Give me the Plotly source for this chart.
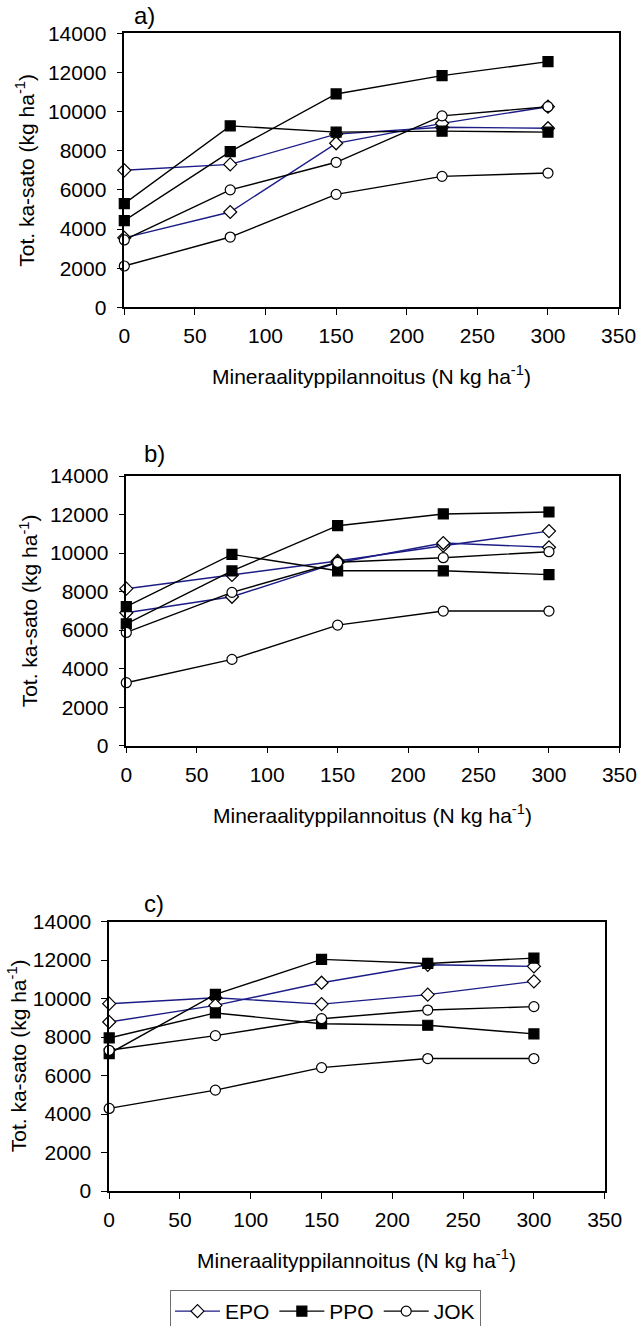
import plotly.graph_objects as go

# Nitrogen fertiliser rates (N kg/ha)
n_rates = [0, 75, 150, 225, 300]
x_ticks = [0, 50, 100, 150, 200, 250, 300, 350]
y_ticks = [0, 2000, 4000, 6000, 8000, 10000, 12000, 14000]

# Panel a) total dry-matter yield (kg/ha)
a_epo_1 = [7000, 7300, 8850, 9200, 9150]
a_epo_2 = [3550, 4870, 8380, 9400, 10250]
a_ppo_1 = [5300, 9270, 8950, 9000, 8950]
a_ppo_2 = [4430, 7950, 10900, 11840, 12550]
a_jok_1 = [3440, 6000, 7410, 9780, 10250]
a_jok_2 = [2110, 3590, 5770, 6690, 6860]

# Panel b)
b_epo_1 = [8150, 8860, 9590, 10380, 11140]
b_epo_2 = [6900, 7730, 9500, 10520, 10300]
b_ppo_1 = [7220, 9930, 9080, 9080, 8880]
b_ppo_2 = [6330, 9070, 11420, 12030, 12130]
b_jok_1 = [5880, 7960, 9520, 9760, 10070]
b_jok_2 = [3270, 4480, 6260, 6990, 6990]

# Panel c)
c_epo_1 = [9730, 10040, 9710, 10200, 10890]
c_epo_2 = [8780, 9640, 10820, 11750, 11670]
c_ppo_1 = [7950, 9250, 8690, 8610, 8160]
c_ppo_2 = [7140, 10210, 12030, 11820, 12100]
c_jok_1 = [7310, 8070, 8950, 9400, 9580]
c_jok_2 = [4290, 5240, 6410, 6880, 6880]

panel_labels = ["a)", "b)", "c)"]
series_names = ["EPO", "PPO", "JOK"]
x_title = "Mineraalityppilannoitus (N kg ha<sup>-1</sup>)"
y_title = "Tot. ka-sato (kg ha<sup>-1</sup>)"

W, H = 639, 1326
FONT = "Liberation Sans, Arial, sans-serif"
BLUE = "#1c1c86"
BLACK = "#000000"

# plot-area boxes in pixels: (left, right, top, bottom)
boxes = [
    (124.3, 618.6, 33.3, 307.3),
    (126.3, 619.4, 476.0, 745.7),
    (109.2, 604.7, 921.5, 1191.0),
]
label_pos = [(132.0, 16), (142.0, 453), (142.0, 903)]
ytitle_x = [25.5, 28.5, 17.0]

styles = {
    "EPO": dict(color=BLUE, symbol="diamond", size=10, fill="white"),
    "PPO": dict(color=BLACK, symbol="square", size=10, fill=BLACK),
    "JOK": dict(color=BLACK, symbol="circle", size=10, fill="white"),
}

panels = [
    {"EPO": [a_epo_1, a_epo_2], "PPO": [a_ppo_1, a_ppo_2], "JOK": [a_jok_1, a_jok_2]},
    {"EPO": [b_epo_1, b_epo_2], "PPO": [b_ppo_1, b_ppo_2], "JOK": [b_jok_1, b_jok_2]},
    {"EPO": [c_epo_1, c_epo_2], "PPO": [c_ppo_1, c_ppo_2], "JOK": [c_jok_1, c_jok_2]},
]


def px_x(v):
    return v / W


def px_y(v):
    return 1 - v / H


fig = go.Figure()
shown = set()
for i, panel in enumerate(panels):
    suffix = "" if i == 0 else str(i + 1)
    for name in series_names:
        st = styles[name]
        for values in panel[name]:
            fig.add_trace(go.Scatter(
                x=n_rates, y=values, name=name, legendgroup=name,
                showlegend=name not in shown,
                mode="lines+markers",
                line=dict(color=st["color"], width=1.4),
                marker=dict(symbol=st["symbol"], size=st["size"], color=st["fill"],
                            line=dict(color=BLACK, width=1.2)),
                cliponaxis=False,
                xaxis="x" + suffix, yaxis="y" + suffix,
            ))
            shown.add(name)

axis_common = dict(
    showline=True, linecolor=BLACK, linewidth=1.5, mirror=True,
    ticks="outside", ticklen=6, tickwidth=1.3, tickcolor=BLACK,
    showgrid=False, zeroline=False, automargin=False,
    tickfont=dict(family=FONT, size=21, color=BLACK),
)

layout = {}
annotations = []
for i, (l, r, t, b) in enumerate(boxes):
    suffix = "" if i == 0 else str(i + 1)
    layout["xaxis" + suffix] = dict(
        axis_common, domain=[px_x(l), px_x(r)], range=[0, 350],
        tickvals=x_ticks, ticklabelstandoff=3,
        anchor="y" + suffix,
    )
    layout["yaxis" + suffix] = dict(
        axis_common, domain=[px_y(b), px_y(t)], range=[0, 14000],
        tickvals=y_ticks, tickformat="d", ticklabelstandoff=6,
        anchor="x" + suffix,
    )
    lx, ly = label_pos[i]
    annotations.append(dict(
        text=panel_labels[i], x=px_x(lx), y=px_y(ly), xref="paper", yref="paper",
        xanchor="left", yanchor="middle", showarrow=False,
        font=dict(family=FONT, size=24, color=BLACK),
    ))
    annotations.append(dict(
        text=x_title, x=px_x((l + r) / 2), y=px_y(b + 68), xref="paper", yref="paper",
        xanchor="center", yanchor="middle", showarrow=False,
        font=dict(family=FONT, size=21, color=BLACK),
    ))
    annotations.append(dict(
        text=y_title, x=px_x(ytitle_x[i]), y=px_y((t + b) / 2), xref="paper", yref="paper",
        xanchor="center", yanchor="middle", showarrow=False, textangle=-90,
        font=dict(family=FONT, size=21, color=BLACK),
    ))

fig.update_layout(
    width=W, height=H,
    margin=dict(l=0, r=0, t=0, b=0, autoexpand=False),
    paper_bgcolor="white", plot_bgcolor="white",
    annotations=annotations,
    legend=dict(
        orientation="h", x=px_x(170), y=px_y(1290), xanchor="left", yanchor="top",
        bordercolor="#6e6e6e", borderwidth=1, bgcolor="white",
        font=dict(family=FONT, size=21, color=BLACK),
        itemwidth=45, tracegroupgap=0,
    ),
    **layout,
)

fig.write_html("out.html")
